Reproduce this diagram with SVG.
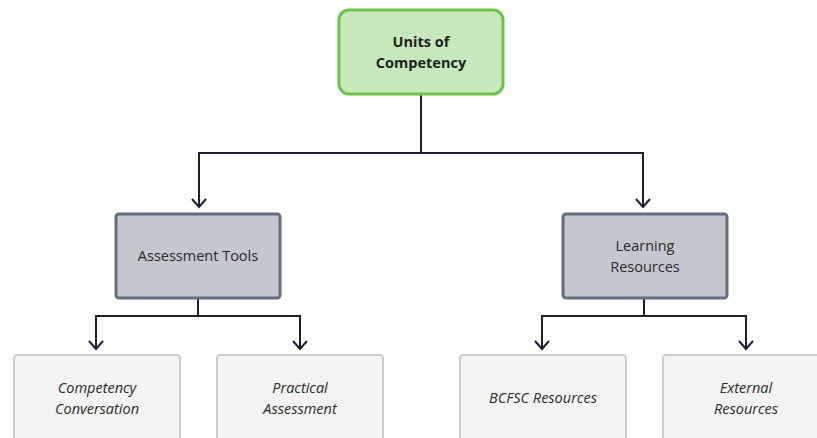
<svg xmlns="http://www.w3.org/2000/svg" width="817" height="438" viewBox="0 0 817 438">
<defs>
<style>
.top rect{fill:#c6e8bc;stroke:#6cc24a;stroke-width:3}
.mid rect{fill:#c4c6d0;stroke:#656c7e;stroke-width:3}
.leaf rect{fill:#f3f3f3;stroke:#cdcdcd;stroke-width:2}
text{font-family:"Open Sans","Noto Sans",sans-serif;font-size:14.5px;fill:#2b2b2b;text-anchor:middle}
.top text{font-weight:bold;fill:#1e1e1e}
.leaf text{font-style:italic}
.conn path{fill:none;stroke:#1c2030;stroke-width:2}
</style>
<marker id="arr" viewBox="0 0 16 16" refX="14" refY="8" markerWidth="16" markerHeight="16" markerUnits="userSpaceOnUse" orient="auto">
<path d="M6,1 L14,8 L6,15" fill="none" stroke="#1c2030" stroke-width="2"/>
</marker>
</defs>
<rect width="817" height="438" fill="#ffffff"/>
<g class="conn">
<path d="M421,95 V153 H199 V207" marker-end="url(#arr)"/>
<path d="M421,153 H643 V207" marker-end="url(#arr)"/>
<path d="M198,299 V316 H96 V349" marker-end="url(#arr)"/>
<path d="M198,316 H300 V349" marker-end="url(#arr)"/>
<path d="M644,299 V316 H542 V349" marker-end="url(#arr)"/>
<path d="M644,316 H746 V349" marker-end="url(#arr)"/>
</g>
<g id="units" class="top">
<rect x="339" y="10" width="164" height="84" rx="10"/>
<text x="421" y="47">Units of</text>
<text x="421" y="68">Competency</text>
</g>
<g id="assessment" class="mid">
<rect x="116" y="214" width="164" height="84" rx="3"/>
<text x="198" y="261">Assessment Tools</text>
</g>
<g id="learning" class="mid">
<rect x="563" y="214" width="164" height="84" rx="3"/>
<text x="645" y="251">Learning</text>
<text x="645" y="272">Resources</text>
</g>
<g id="conversation" class="leaf">
<rect x="14" y="355" width="166" height="90" rx="3"/>
<text x="97" y="393">Competency</text>
<text x="97" y="414">Conversation</text>
</g>
<g id="practical" class="leaf">
<rect x="217" y="355" width="166" height="90" rx="3"/>
<text x="300" y="393">Practical</text>
<text x="300" y="414">Assessment</text>
</g>
<g id="bcfsc" class="leaf">
<rect x="460" y="355" width="166" height="90" rx="3"/>
<text x="543" y="403">BCFSC Resources</text>
</g>
<g id="external" class="leaf">
<rect x="663" y="355" width="166" height="90" rx="3"/>
<text x="746" y="393">External</text>
<text x="746" y="414">Resources</text>
</g>
</svg>
